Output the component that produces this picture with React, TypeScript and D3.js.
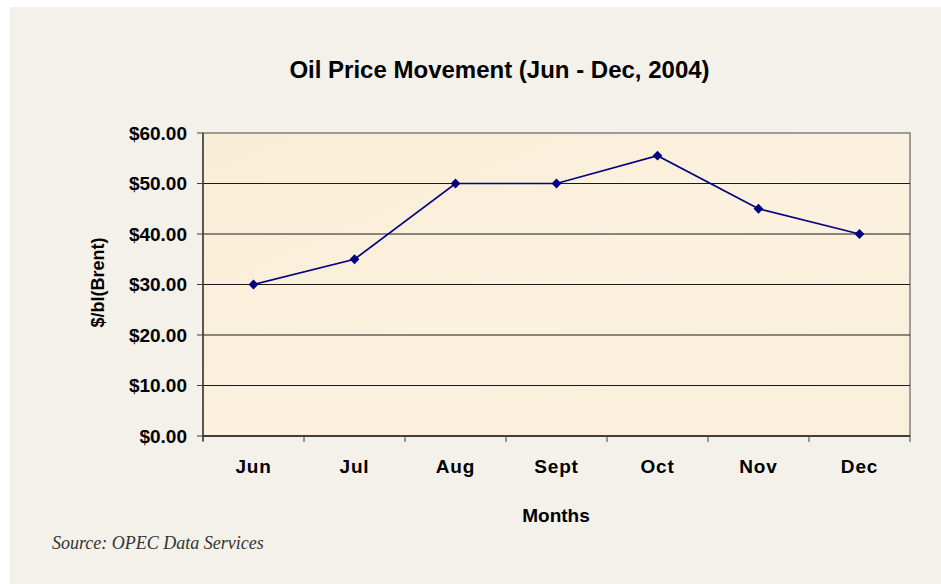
import React from "react";
import * as d3 from "d3";

const months = ["Jun", "Jul", "Aug", "Sept", "Oct", "Nov", "Dec"];
const prices = [30, 35, 50, 50, 55.5, 45, 40];
const yTicks = [0, 10, 20, 30, 40, 50, 60];

const W = 941;
const H = 584;
const plot = { left: 203, right: 910, top: 133, bottom: 436 };

export default function App() {
  const x = d3.scaleBand<string>().domain(months).range([plot.left, plot.right]).padding(0);
  const y = d3.scaleLinear().domain([0, 60]).range([plot.bottom, plot.top]);
  const line = d3
    .line<number>()
    .x((_, i) => (x(months[i]) as number) + x.bandwidth() / 2)
    .y((d) => y(d));
  const marker = d3.symbol().type(d3.symbolSquare).size(48)();
  const font = "'Liberation Sans', Arial, sans-serif";
  const tickEdges = [...months.map((m) => x(m) as number), plot.right];

  return (
    <div style={{ position: "absolute", left: 0, top: 0 }}>
      <svg width={W} height={H} style={{ display: "block" }}>
        <rect x={0} y={0} width={W} height={H} fill="#ffffff" />
        <rect x={10} y={7} width={W - 10} height={H - 7} fill="#f4f1eb" />
        <defs>
          <linearGradient id="paper" x1="0" y1="0" x2="1" y2="1">
            <stop offset="0%" stopColor="#faedd6" />
            <stop offset="50%" stopColor="#fbf1de" />
            <stop offset="100%" stopColor="#faefda" />
          </linearGradient>
        </defs>
        <text x={499.5} y={78} textAnchor="middle" fontFamily={font} fontWeight="bold" fontSize={24} fill="#000">
          Oil Price Movement (Jun - Dec, 2004)
        </text>
        <rect
          x={plot.left}
          y={plot.top}
          width={plot.right - plot.left}
          height={plot.bottom - plot.top}
          fill="url(#paper)"
          stroke="#808080"
          strokeWidth={1.5}
        />
        {yTicks.map((t) => (
          <g key={t}>
            {t > 0 && t < 60 && (
              <line x1={plot.left} x2={plot.right} y1={y(t)} y2={y(t)} stroke="#1a1a1a" strokeWidth={1} />
            )}
            <line x1={plot.left - 6} x2={plot.left} y1={y(t)} y2={y(t)} stroke="#404040" strokeWidth={1} />
            <text
              x={187}
              y={y(t)}
              dy="0.36em"
              textAnchor="end"
              fontFamily={font}
              fontWeight="bold"
              fontSize={19}
              fill="#000"
            >
              {d3.format("$.2f")(t)}
            </text>
          </g>
        ))}
        <line x1={plot.left} x2={plot.left} y1={plot.top} y2={plot.bottom + 5} stroke="#404040" strokeWidth={1.5} />
        <line x1={plot.left} x2={plot.right} y1={plot.bottom} y2={plot.bottom} stroke="#202020" strokeWidth={1.5} />
        {tickEdges.map((e, i) => (
          <line key={i} x1={e} x2={e} y1={plot.bottom} y2={plot.bottom + 6} stroke="#404040" strokeWidth={1} />
        ))}
        {months.map((m) => (
          <text
            key={m}
            x={(x(m) as number) + x.bandwidth() / 2}
            y={473}
            textAnchor="middle"
            fontFamily={font}
            fontWeight="bold"
            fontSize={19}
            letterSpacing={0.8}
            fill="#000"
          >
            {m}
          </text>
        ))}
        <path d={line(prices) as string} fill="none" stroke="#000080" strokeWidth={1.7} />
        {prices.map((p, i) => (
          <path
            key={i}
            d={marker as string}
            transform={`translate(${(x(months[i]) as number) + x.bandwidth() / 2},${y(p)}) rotate(45)`}
            fill="#000080"
          />
        ))}
        <text
          transform={`translate(103.5,282.5) rotate(-90)`}
          textAnchor="middle"
          fontFamily={font}
          fontWeight="bold"
          fontSize={18}
          fill="#000"
        >
          $/bl(Brent)
        </text>
        <text x={556} y={522} textAnchor="middle" fontFamily={font} fontWeight="bold" fontSize={19} fill="#000">
          Months
        </text>
        <text
          x={52}
          y={549}
          fontFamily="'Liberation Serif', 'DejaVu Serif', serif"
          fontStyle="italic"
          fontSize={18}
          fill="#333"
        >
          Source: OPEC Data Services
        </text>
      </svg>
    </div>
  );
}
